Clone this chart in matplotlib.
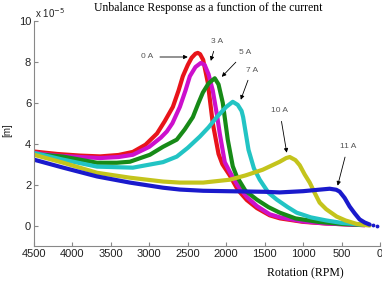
import matplotlib
matplotlib.use('Agg')
from matplotlib import pyplot as plt

# (rpm, amplitude in 1e-5 m)
rpm_0a = [4500, 4200, 3900, 3640, 3400, 3214, 3050, 2900, 2800, 2694, 2620, 2564, 2500, 2450,
          2400, 2370, 2340, 2300, 2240, 2175, 2130, 2100, 2050, 1954, 1850, 1733, 1600, 1434,
          1300, 1000, 700, 400, 200]
amp_0a = [3.62, 3.5, 3.42, 3.38, 3.45, 3.6, 3.95, 4.5, 5.1, 5.8, 6.6, 7.3, 7.85, 8.2,
          8.4, 8.44, 8.38, 8.1, 7.0, 5.0, 4.1, 3.5, 3.0, 2.45, 1.75, 1.25, 0.85, 0.5,
          0.35, 0.18, 0.1, 0.05, 0.02]

rpm_3a = [4500, 4200, 3900, 3640, 3400, 3214, 3000, 2850, 2772, 2700, 2603, 2530, 2473, 2400,
          2330, 2280, 2230, 2175, 2120, 2084, 2019, 1950, 1850, 1733, 1600, 1434, 1300, 1000,
          700, 400, 200]
amp_3a = [3.55, 3.42, 3.35, 3.3, 3.35, 3.46, 3.85, 4.3, 4.6, 5.0, 5.8, 6.6, 7.3, 7.75,
          7.95, 7.85, 7.4, 6.6, 5.4, 4.5, 3.1, 2.6, 1.95, 1.4, 0.95, 0.55, 0.4, 0.2,
          0.1, 0.05, 0.02]

rpm_5a = [4500, 4120, 3680, 3422, 3253, 2993, 2822, 2643, 2540, 2434, 2360, 2304, 2230, 2149,
          2100, 2045, 1980, 1915, 1863, 1750, 1603, 1450, 1304, 1100, 800, 500, 200]
amp_5a = [3.5, 3.37, 3.07, 3.07, 3.12, 3.46, 3.85, 4.2, 4.7, 5.3, 6.0, 6.5, 6.95, 7.2,
          6.9, 6.0, 4.2, 2.9, 2.4, 1.7, 1.27, 0.9, 0.63, 0.35, 0.18, 0.08, 0.03]

rpm_7a = [4500, 4120, 3680, 3214, 2822, 2643, 2500, 2343, 2230, 2123, 2000, 1915, 1850, 1800,
          1780, 1710, 1640, 1564, 1450, 1343, 1200, 1084, 900, 700, 500, 200]
amp_7a = [3.55, 3.22, 2.88, 2.83, 3.1, 3.37, 3.8, 4.35, 4.8, 5.3, 5.8, 6.05, 5.9, 5.6,
          5.3, 3.7, 2.8, 2.24, 1.6, 1.27, 0.9, 0.63, 0.4, 0.25, 0.13, 0.03]

rpm_10a = [4500, 4120, 3680, 3253, 2822, 2604, 2300, 1954, 1750, 1525, 1400, 1304, 1220, 1174,
           1100, 1044, 980, 914, 850, 785, 700, 564, 450, 304, 135]
amp_10a = [3.46, 3.07, 2.58, 2.34, 2.15, 2.1, 2.1, 2.24, 2.45, 2.73, 2.95, 3.12, 3.3, 3.35,
           3.2, 2.95, 2.5, 2.1, 1.6, 1.12, 0.8, 0.44, 0.25, 0.08, 0.0]

rpm_11a = [4500, 4120, 3680, 3253, 2822, 2604, 2300, 2000, 1500, 1304, 1000, 800, 654, 570,
           525, 460, 395, 330, 265, 200, 135]
amp_11a = [3.22, 2.83, 2.4, 2.1, 1.85, 1.76, 1.7, 1.68, 1.65, 1.62, 1.68, 1.75, 1.8, 1.75,
           1.66, 1.35, 0.93, 0.6, 0.3, 0.15, 0.05]
dots_rpm = [95, 45]
dots_amp = [0.02, 0.0]

curves = [(rpm_0a, amp_0a, '#e8141a'), (rpm_3a, amp_3a, '#cc10cc'),
          (rpm_5a, amp_5a, '#178a17'), (rpm_7a, amp_7a, '#22c4c4'),
          (rpm_10a, amp_10a, '#c4c41c'), (rpm_11a, amp_11a, '#1a1acc')]

# label, text position, arrow tip
labels = [('0 A', (3032, 8.24), (2500, 8.24)),
          ('3 A', (2123, 9.02), (2201, 8.05)),
          ('5 A', (1759, 8.44), (2058, 7.27)),
          ('7 A', (1668, 7.6), (1811, 6.15)),
          ('10 A', (1304, 5.6), (1213, 3.56)),
          ('11 A', (420, 3.85), (551, 1.95))]

fig = plt.figure(figsize=(3.82, 2.81), dpi=100)
ax = fig.add_axes([34 / 382, 35 / 281, 346 / 382, 225 / 281])

for x, y, c in curves:
    ax.plot(x, y, color=c, lw=3.0, solid_capstyle='round', solid_joinstyle='round')
ax.plot(dots_rpm, dots_amp, '.', color='#1a1acc', ms=3.5)

for txt, pos, tip in labels:
    ax.annotate(txt, xy=tip, xytext=pos, ha='center', va='center',
                fontsize=6, color='#555555', family='Liberation Sans',
                arrowprops=dict(arrowstyle='-|>', lw=0.6, color='black',
                                mutation_scale=6, shrinkA=3, shrinkB=0))

ax.set_xlim(4500, 0)
ax.set_ylim(-1, 10)
ax.set_xticks(range(4500, -1, -500))
ax.set_yticks([0, 2, 4, 6, 8, 10])
for s in ['top', 'right']:
    ax.spines[s].set_visible(False)
for s in ['left', 'bottom']:
    ax.spines[s].set_color('#888888')
ax.tick_params(direction='in', length=3, color='#888888', labelsize=8, pad=2)
for lab in ax.get_xticklabels() + ax.get_yticklabels():
    lab.set_family('Liberation Sans')
    lab.set_color('#222222')

fig.text(208 / 382, 1 - 8 / 281, 'Unbalance Response as a function of the current',
         ha='center', va='center', family='Liberation Serif', fontsize=8.5)
fig.text(305 / 382, 1 - 273 / 281, 'Rotation (RPM)', ha='center', va='center',
         family='Liberation Serif', fontsize=8.5)
fig.text(7 / 382, 1 - 130 / 281, '[m]', ha='center', va='center', rotation=90,
         family='Liberation Sans', fontsize=7, color='#222222')
fig.text(35 / 382, 1 - 13 / 281, r'x 10$^{-5}$', ha='left', va='center',
         family='Liberation Sans', fontsize=7, color='#222222')

fig.savefig('out.png', dpi=100)
